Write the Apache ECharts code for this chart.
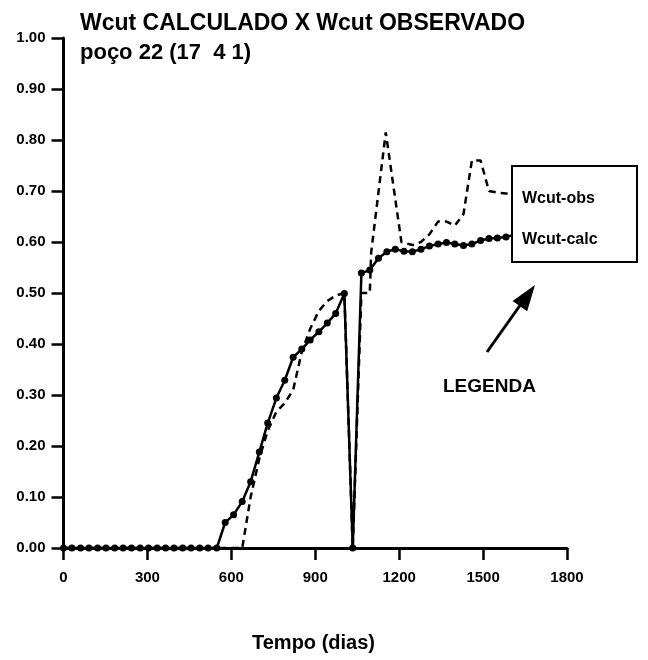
<!DOCTYPE html>
<html>
<head>
<meta charset="utf-8">
<script src="https://cdn.jsdelivr.net/npm/echarts@6/dist/echarts.min.js"></script>
<style>
html,body{margin:0;padding:0;background:#fff;}
#chart{width:648px;height:660px;}
</style>
</head>
<body>
<div id="chart"></div>
<script>
// Time (days) of the calculated points (monthly steps)
var calcDays = [0,30,61,91,122,152,183,213,243,274,304,335,365,395,426,456,487,517,548,578,608,639,669,700,730,761,791,821,852,882,913,943,973,1004,1034,1065,1095,1126,1156,1186,1217,1247,1278,1308,1339,1369,1399,1430,1460,1491,1521,1551,1582,1612];
var calcValues = [0,0,0,0,0,0,0,0,0,0,0,0,0,0,0,0,0,0,0,0.050,0.065,0.091,0.130,0.188,0.245,0.294,0.329,0.374,0.390,0.408,0.424,0.441,0.460,0.499,0,0.539,0.545,0.568,0.581,0.586,0.582,0.581,0.586,0.592,0.596,0.599,0.596,0.593,0.596,0.603,0.607,0.608,0.610,0.614];

// Observed water cut
var obsDays = [0,639,669,700,730,761,791,821,852,882,913,943,973,1004,1034,1065,1095,1100,1152,1208,1247,1278,1308,1339,1369,1399,1430,1460,1491,1521,1551,1582,1612];
var obsValues = [0,0,0.10,0.175,0.23,0.267,0.284,0.31,0.385,0.43,0.465,0.484,0.495,0.50,0,0.50,0.50,0.58,0.815,0.60,0.594,0.60,0.615,0.64,0.64,0.632,0.655,0.76,0.76,0.70,0.697,0.695,0.695];

var xTicks = [0,300,600,900,1200,1500,1800];
var yTicks = [0,0.1,0.2,0.3,0.4,0.5,0.6,0.7,0.8,0.9,1.0];

var titleText = 'Wcut CALCULADO X Wcut OBSERVADO';
var subTitleText = 'poço 22 (17  4 1)';
var xName = 'Tempo (dias)';
var legendNames = ['Wcut-obs','Wcut-calc'];
var noteText = 'LEGENDA';

function zip(a,b){var r=[];for(var i=0;i<a.length;i++){r.push([a[i],b[i]]);}return r;}

var FONT = '"Liberation Sans", Arial, sans-serif';
var chart = echarts.init(document.getElementById('chart'), null, {renderer:'canvas'});
var option = {
  backgroundColor:'#fff',
  animation:false,
  grid:{left:63.5, right:81, top:38, bottom:112, containLabel:false},
  xAxis:{
    type:'value', min:xTicks[0], max:xTicks[xTicks.length-1], interval:300,
    axisLine:{show:true, onZero:false, lineStyle:{color:'#000', width:3}},
    axisTick:{show:true, inside:false, length:12, lineStyle:{color:'#000', width:2.5}},
    axisLabel:{color:'#000', fontFamily:FONT, fontWeight:'bold', fontSize:15, margin:22,
      formatter:function(v){return String(Math.round(v));}},
    splitLine:{show:false}
  },
  yAxis:{
    type:'value', min:yTicks[0], max:yTicks[yTicks.length-1], interval:0.1,
    axisLine:{show:true, lineStyle:{color:'#000', width:3}},
    axisTick:{show:true, inside:false, length:12, lineStyle:{color:'#000', width:2.5}},
    axisLabel:{color:'#000', fontFamily:FONT, fontWeight:'bold', fontSize:15, margin:18,
      formatter:function(v){return v.toFixed(2);}},
    splitLine:{show:false}
  },
  series:[
    {
      name:legendNames[0], type:'line', data:zip(obsDays,obsValues),
      showSymbol:false, symbol:'none',
      lineStyle:{color:'#000', width:2.5, type:[7,5]},
      z:2
    },
    {
      name:legendNames[1], type:'line', data:zip(calcDays,calcValues),
      symbol:'circle', symbolSize:7, showAllSymbol:true,
      itemStyle:{color:'#000'},
      lineStyle:{color:'#000', width:2.5},
      z:3
    }
  ],
  graphic:[
    {type:'text', left:80, top:12, style:{text:titleText, font:'bold 23px '+FONT, fill:'#000'}},
    {type:'text', left:80, top:42, style:{text:subTitleText, font:'bold 22px '+FONT, fill:'#000'}},
    {type:'text', left:252, top:633, style:{text:xName, font:'bold 20px '+FONT, fill:'#000'}},
    {type:'rect', shape:{x:512, y:166, width:125, height:96}, style:{fill:'#fff', stroke:'#000', lineWidth:2}, z:10},
    {type:'text', left:522, top:191, style:{text:legendNames[0], font:'bold 16px '+FONT, fill:'#000'}, z:11},
    {type:'text', left:522, top:232, style:{text:legendNames[1], font:'bold 16px '+FONT, fill:'#000'}, z:11},
    {type:'line', shape:{x1:487, y1:352, x2:521, y2:304}, style:{stroke:'#000', lineWidth:3}, z:10},
    {type:'polygon', shape:{points:[[535,285],[527.2,311.3],[512.6,300.9]]}, style:{fill:'#000'}, z:10},
    {type:'text', left:443, top:377, style:{text:noteText, font:'bold 19px '+FONT, fill:'#000'}}
  ]
};
chart.setOption(option);
</script>
</body>
</html>
